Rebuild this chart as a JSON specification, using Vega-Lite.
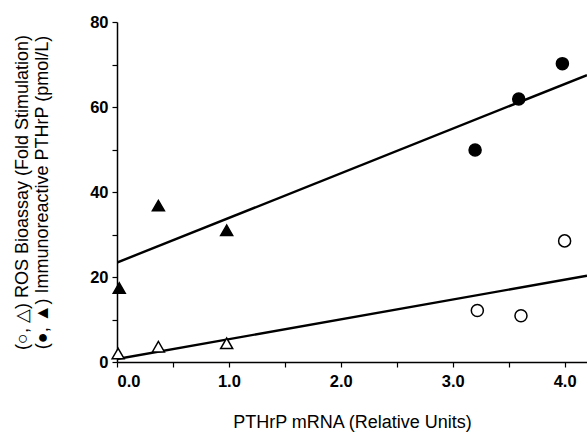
{
  "$schema": "https://vega.github.io/schema/vega-lite/v6.json",
  "width": 470,
  "height": 340,
  "autosize": {"type": "none"},
  "padding": {"left": 117, "top": 22, "right": 0, "bottom": 74},
  "background": "white",
  "config": {
    "view": {"stroke": null},
    "font": "Liberation Sans",
    "axis": {
      "domainColor": "black", "tickColor": "black", "labelColor": "black", "titleColor": "black",
      "grid": false, "domainWidth": 1.5, "tickWidth": 1.2, "tickSize": 5,
      "labelFont": "Liberation Sans", "labelFontSize": 16.5, "labelFontWeight": "bold",
      "titleFont": "Liberation Sans", "titleFontWeight": "normal"
    }
  },
  "datasets": {
    "pts": [
      {"x": 0.02, "y": 17.4, "series": "PTHrP early"},
      {"x": 0.37, "y": 36.8, "series": "PTHrP early"},
      {"x": 0.98, "y": 31.0, "series": "PTHrP early"},
      {"x": 3.20, "y": 49.9, "series": "PTHrP late"},
      {"x": 3.59, "y": 61.9, "series": "PTHrP late"},
      {"x": 3.98, "y": 70.2, "series": "PTHrP late"},
      {"x": 0.01, "y": 2.0, "series": "ROS early"},
      {"x": 0.37, "y": 3.6, "series": "ROS early"},
      {"x": 0.98, "y": 4.4, "series": "ROS early"},
      {"x": 3.22, "y": 12.1, "series": "ROS late"},
      {"x": 3.61, "y": 10.9, "series": "ROS late"},
      {"x": 4.00, "y": 28.5, "series": "ROS late"}
    ],
    "fits": [
      {"x": 0.0, "y": 23.4, "fit": "PTHrP"},
      {"x": 4.2, "y": 67.5, "fit": "PTHrP"},
      {"x": 0.0, "y": 0.7, "fit": "ROS"},
      {"x": 4.2, "y": 20.3, "fit": "ROS"}
    ]
  },
  "layer": [
    {
      "data": {"name": "fits"},
      "mark": {"type": "line", "color": "black", "strokeWidth": 2.4, "clip": true},
      "encoding": {
        "x": {"field": "x", "type": "quantitative", "scale": {"domain": [0, 4.2], "nice": false, "zero": false},
          "axis": {"values": [0, 0.5, 1, 1.5, 2, 2.5, 3, 3.5, 4],
            "labelExpr": "datum.value % 1 == 0 ? format(datum.value, '.1f') : ''",
            "title": "PTHrP mRNA (Relative Units)", "titleFontSize": 18, "titlePadding": 24, "labelPadding": 6}},
        "y": {"field": "y", "type": "quantitative", "scale": {"domain": [0, 80], "nice": false},
          "axis": {"values": [0, 10, 20, 30, 40, 50, 60, 70, 80],
            "labelExpr": "datum.value % 20 == 0 ? datum.label : ''",
            "title": ["(○, △)  ROS Bioassay (Fold Stimulation)", "(●, ▲)  Immunoreactive PTHrP (pmol/L)"],
            "titleFontSize": 18, "titleLineHeight": 20, "titlePadding": 38, "labelPadding": 4}},
        "detail": {"field": "fit"}
      }
    },
    {
      "data": {"name": "pts"},
      "mark": {"type": "point", "strokeWidth": 1.5, "opacity": 1, "clip": false},
      "encoding": {
        "x": {"field": "x", "type": "quantitative"},
        "y": {"field": "y", "type": "quantitative"},
        "shape": {"field": "series", "type": "nominal", "legend": null,
          "scale": {"domain": ["PTHrP early", "PTHrP late", "ROS early", "ROS late"],
            "range": ["triangle-up", "circle", "triangle-up", "circle"]}},
        "fill": {"field": "series", "type": "nominal", "legend": null,
          "scale": {"domain": ["PTHrP early", "PTHrP late", "ROS early", "ROS late"],
            "range": ["black", "black", "white", "white"]}},
        "stroke": {"value": "black"},
        "size": {"value": 145}
      }
    }
  ]
}
